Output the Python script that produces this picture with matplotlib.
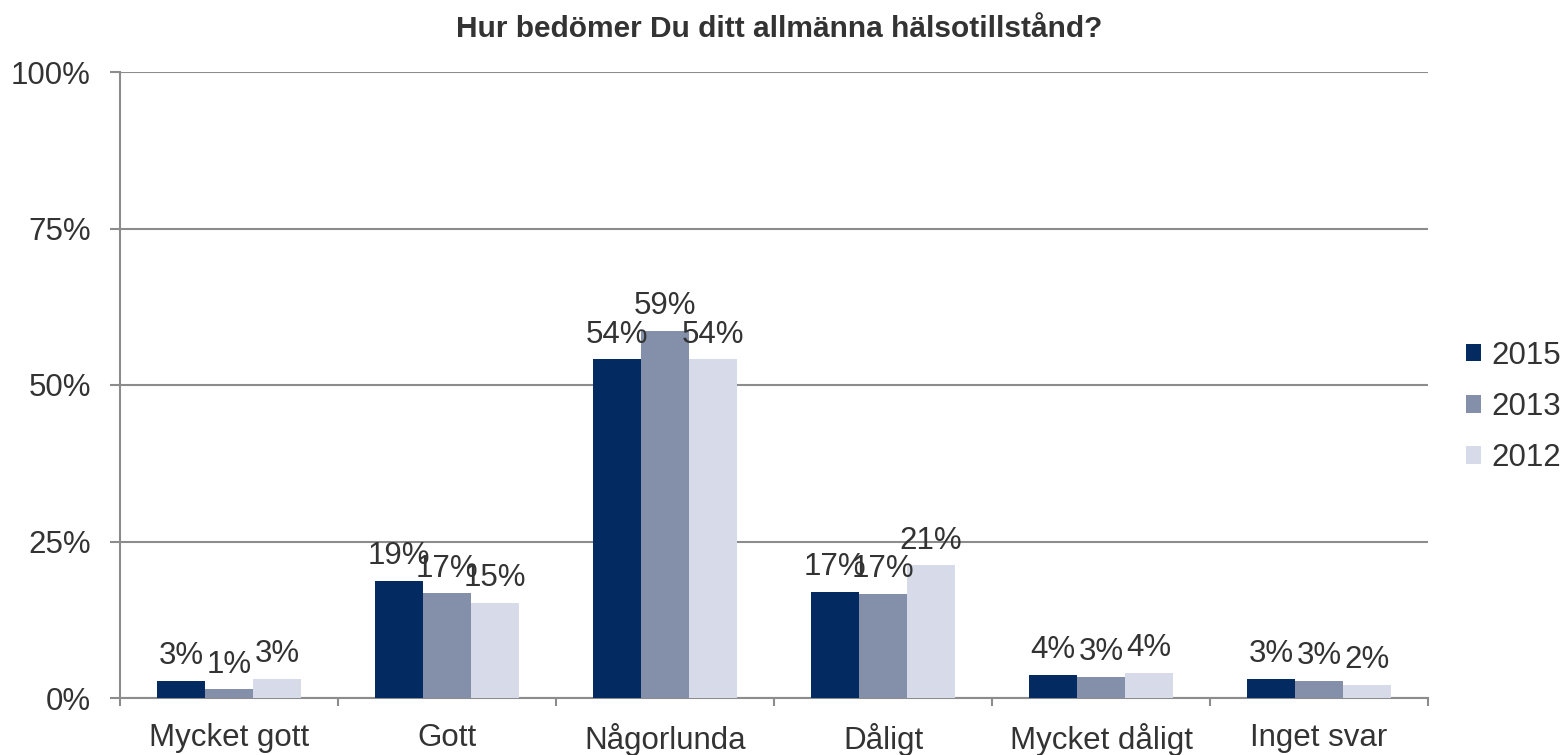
import matplotlib
matplotlib.use("Agg")
import matplotlib.pyplot as plt
from matplotlib.ticker import FixedLocator, NullFormatter
import numpy as np

categories = ["Mycket gott", "Gott", "Någorlunda", "Dåligt", "Mycket dåligt", "Inget svar"]
years = ["2015", "2013", "2012"]
v2015 = [2.7, 18.7, 54.1, 17.0, 3.7, 3.0]
v2013 = [1.4, 16.7, 58.6, 16.6, 3.4, 2.7]
v2012 = [3.0, 15.2, 54.1, 21.2, 4.0, 2.1]
colors = ["#032B61", "#8490AA", "#D7DAE8"]
yticks = [0, 25, 50, 75, 100]
ytick_labels = ["0%", "25%", "50%", "75%", "100%"]
title = "Hur bedömer Du ditt allmänna hälsotillstånd?"

plt.rcParams['font.family'] = ['Liberation Sans', 'DejaVu Sans']
text_color = "#333333"
axis_color = "#8C8C8C"
fs = 22.5

fig = plt.figure(figsize=(15.67, 7.55), dpi=100)
ax = fig.add_axes([120/1567, 57/755, 1308/1567, 626/755])

x = np.arange(len(categories))
w = 0.22
series = [v2015, v2013, v2012]
for i, (vals, yr, c) in enumerate(zip(series, years, colors)):
    pos = x + (i - 1) * w
    bars = ax.bar(pos, vals, width=w, color=c, label=yr, zorder=3)
    for b, v in zip(bars, vals):
        ax.annotate(f"{round(v):d}%", (b.get_x() + b.get_width()/2, v),
                    xytext=(0, 7), textcoords="offset points",
                    ha="center", va="bottom", fontsize=fs, color=text_color, zorder=4)

ax.set_xlim(-0.5, len(categories) - 0.5)
ax.set_ylim(0, 100)
ax.set_yticks(yticks)
ax.set_yticklabels(ytick_labels, fontsize=fs, color=text_color)
ax.yaxis.grid(True, color=axis_color, linewidth=1.5, zorder=0)
ax.set_axisbelow(True)

ax.set_xticks(x)
ax.set_xticklabels(categories, fontsize=fs, color=text_color)
ax.tick_params(axis='x', which='major', length=0, pad=18)
ax.xaxis.set_minor_locator(FixedLocator(np.arange(-0.5, len(categories), 1.0)))
ax.xaxis.set_minor_formatter(NullFormatter())
ax.tick_params(axis='x', which='minor', length=6, width=1.5, color=axis_color)
ax.tick_params(axis='y', length=7, width=1.5, color=axis_color, pad=14)

for s in ["top", "right"]:
    ax.spines[s].set_visible(False)
for s in ["left", "bottom"]:
    ax.spines[s].set_color(axis_color)
    ax.spines[s].set_linewidth(1.5)

leg = ax.legend(loc="center left", bbox_to_anchor=(1.0291, 0.465), frameon=False,
                fontsize=fs, handlelength=0.49, handleheight=0.49, handletextpad=0.33,
                labelspacing=0.68, borderaxespad=0, borderpad=0, labelcolor=text_color)

fig.text(779/1567, 1 - 37/755, title, ha="center", va="baseline",
         fontsize=21.5, fontweight="bold", color=text_color)

fig.savefig("out.png", dpi=100)
